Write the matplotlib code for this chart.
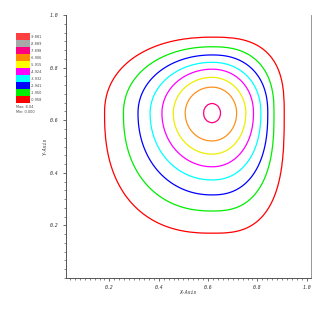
import numpy as np
import matplotlib
matplotlib.use("Agg")
import matplotlib.pyplot as plt
from matplotlib.patches import Rectangle
from matplotlib.ticker import MultipleLocator

# contour levels shown in the legend (bottom to top)
levels = [0.958, 1.950, 2.941, 3.932, 4.924, 5.915, 6.906, 7.898, 8.889, 9.881]
level_labels = ["0.958", "1.950", "2.941", "3.932", "4.924",
                "5.915", "6.906", "7.898", "8.889", "9.881"]
colors = ["#ff0000", "#00ee00", "#0000ff", "#00ffff", "#ff00ff",
          "#ffff00", "#ff8c00", "#ff0080", "#a8a8a8", "#ff4040"]
line_colors = ["#ff0000", "#00ee00", "#0000ff", "#00ffff", "#ff00ff",
               "#eeee00", "#ff9020", "#ff0080", "#a8a8a8", "#ff4040"]
field_max = 8.04
field_min = 0.0

# extents of each drawn contour (levels 1..8)
left_x = [0.181, 0.257, 0.316, 0.365, 0.413, 0.459, 0.507, 0.581]
right_x = [0.908, 0.867, 0.842, 0.814, 0.784, 0.753, 0.716, 0.651]
bottom_y = [0.171, 0.255, 0.316, 0.373, 0.423, 0.471, 0.521, 0.590]
top_y = [0.915, 0.879, 0.848, 0.820, 0.794, 0.763, 0.726, 0.664]
# squareness of each contour per quadrant (upper-left, upper-right, lower-right, lower-left)
p_ul = [2.2, 2.1, 2.05, 2.0, 2.0, 2.0, 2.0, 2.0]
p_ur = [2.8, 2.5, 2.3, 2.15, 2.1, 2.0, 2.0, 2.0]
p_lr = [2.9, 2.6, 2.35, 2.2, 2.1, 2.05, 2.0, 2.0]
p_ll = [2.4, 2.25, 2.1, 2.05, 2.0, 2.0, 2.0, 2.0]
center = (0.616, 0.627)

# build a smooth field whose iso-lines pass through the read extents
lv = np.array([field_min] + levels[:8] + [field_max])
lx = np.array([0.0] + left_x + [center[0]])
rx = np.array([1.0] + right_x + [center[0]])
by = np.array([0.0] + bottom_y + [center[1]])
ty = np.array([1.0] + top_y + [center[1]])
pq = [np.array([q[0]] + q + [2.0]) for q in (p_ul, p_ur, p_lr, p_ll)]

xs = np.linspace(0, 1, 301)
ys = np.linspace(0, 1, 301)
X, Y = np.meshgrid(xs, ys)
dx = X - center[0]
dy = Y - center[1]
quad_ul = (dx < 0) & (dy >= 0)
quad_ur = (dx >= 0) & (dy >= 0)
quad_lr = (dx >= 0) & (dy < 0)

Lgrid = np.linspace(field_min, field_max, 500)
field = np.full(X.shape, field_max)
done = np.zeros(X.shape, bool)
g_prev = None
for k, L in enumerate(Lgrid):
    ax_l = max(center[0] - np.interp(L, lv, lx), 1e-4)
    ax_r = max(np.interp(L, lv, rx) - center[0], 1e-4)
    ay_b = max(center[1] - np.interp(L, lv, by), 1e-4)
    ay_t = max(np.interp(L, lv, ty) - center[1], 1e-4)
    pv = [np.interp(L, lv, q) for q in pq]
    p = np.where(quad_ul, pv[0], np.where(quad_ur, pv[1],
                 np.where(quad_lr, pv[2], pv[3])))
    sx = np.where(dx < 0, ax_l, ax_r)
    sy = np.where(dy < 0, ay_b, ay_t)
    g = np.abs(dx / sx) ** p + np.abs(dy / sy) ** p
    if g_prev is not None:
        cross = (~done) & (g > 1) & (g_prev <= 1)
        frac = (1 - g_prev[cross]) / (g[cross] - g_prev[cross])
        field[cross] = Lgrid[k - 1] + frac * (Lgrid[1] - Lgrid[0])
        done |= cross
    g_prev = g
field[~done & (g_prev > 1)] = field_min

fig = plt.figure(figsize=(3.27, 3.27), dpi=100)
ax = fig.add_axes([66 / 327, 49 / 327, 244.7 / 327, 263 / 327])
ax.contour(X, Y, field, levels=levels, colors=line_colors, linewidths=0.9)

ax.set_xlim(0.024, 1.016)
ax.set_ylim(0.0, 1.0)
ax.xaxis.set_minor_locator(MultipleLocator(0.02))
ax.yaxis.set_minor_locator(MultipleLocator(0.2 / 6))
ax.set_xticks([0.2, 0.4, 0.6, 0.8, 1.0])
ax.set_xticklabels(["0.2", "0.4", "0.6", "0.8", "1.0"])
ax.set_yticks([0.2, 0.4, 0.6, 0.8, 1.0])
ax.set_yticklabels(["0.2", "0.4", "0.6", "0.8", "1.0"])
ax.tick_params(which="major", direction="out", length=2.2, width=0.6,
               colors="#555555", labelsize=3.5, labelcolor="#333333")
ax.tick_params(which="minor", direction="out", length=1.3, width=0.5,
               colors="#555555")
ax.tick_params(axis="y", pad=3)
ax.tick_params(axis="x", pad=3)
for lab in ax.get_xticklabels() + ax.get_yticklabels():
    lab.set_family("DejaVu Sans Mono")
    lab.set_style("italic")
ax.spines["top"].set_visible(False)
for s in ["left", "bottom"]:
    ax.spines[s].set_color("#555555")
    ax.spines[s].set_linewidth(0.7)
ax.spines["right"].set_color("#888888")
ax.spines["right"].set_linewidth(0.6)

fig.text(188 / 327, 1 - 292 / 327, "X-Axis", fontsize=3.5, ha="center",
         va="center", family="DejaVu Sans Mono", style="italic", color="#333333")
fig.text(45 / 327, 1 - 146 / 327, "Y-Axis", fontsize=3.5, ha="center",
         va="center", rotation=90, family="DejaVu Sans Mono", style="italic",
         color="#333333")

# legend swatches drawn in figure pixels
sw_left, sw_w, sw_h, sw_bottom = 16, 13.5, 7.0, 103.3
for i, (c, lab) in enumerate(zip(colors, level_labels)):
    y0 = sw_bottom - (i + 1) * sw_h
    fig.patches.append(Rectangle((sw_left / 327, 1 - (y0 + sw_h) / 327),
                                 sw_w / 327, sw_h / 327, facecolor=c,
                                 edgecolor="none", transform=fig.transFigure))
    fig.text((sw_left + sw_w + 1.5) / 327, 1 - (y0 + sw_h / 2) / 327,
             "-" + lab, fontsize=2.5, va="center", ha="left",
             color="#444444")
fig.text(16 / 327, 1 - 107 / 327, "Max: %.2f" % field_max, fontsize=2.5,
         va="center", color="#444444")
fig.text(16 / 327, 1 - 112 / 327, "Min: %.3f" % field_min, fontsize=2.5,
         va="center", color="#444444")

fig.savefig("out.png", dpi=100)
